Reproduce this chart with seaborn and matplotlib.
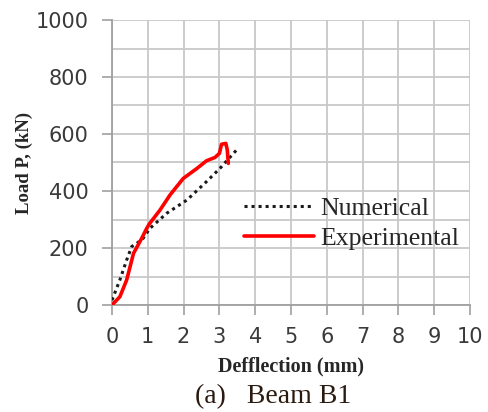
import matplotlib
matplotlib.use("Agg")
import matplotlib.pyplot as plt
import seaborn as sns
import pandas as pd
from matplotlib.lines import Line2D

# Data
exp_x = [0.0, 0.22, 0.41, 0.60, 0.83, 0.97, 1.04, 1.34, 1.62, 1.99, 2.37, 2.64, 2.88, 3.00, 3.06, 3.18, 3.22, 3.25]
exp_y = [0, 29, 88, 181, 234, 269, 284, 333, 386, 444, 479, 506, 518, 532, 564, 567, 544, 497]
num_x = [0.0, 0.22, 0.41, 0.55, 0.69, 0.87, 1.06, 1.53, 2.09, 2.64, 3.02, 3.48]
num_y = [17, 88, 158, 205, 216, 234, 269, 322, 368, 433, 480, 544]
x_ticks = list(range(0, 11))
y_ticks = [0, 200, 400, 600, 800, 1000]

df = pd.concat([
    pd.DataFrame({"x": num_x, "y": num_y, "series": "Numerical"}),
    pd.DataFrame({"x": exp_x, "y": exp_y, "series": "Experimental"}),
], ignore_index=True)

sns.set_style("white")
fig = plt.figure(figsize=(4.88, 4.12), dpi=100)
ax = fig.add_axes([112/488, 1-305/412, 358/488, 285/412])

sns.lineplot(data=df, x="x", y="y", hue="series", style="series",
             palette={"Numerical": "#1a1a1a", "Experimental": "#ff0000"},
             dashes={"Numerical": (1, 1.3), "Experimental": ""},
             sort=False, estimator=None, ax=ax, legend=False)
lines = ax.get_lines()
lines[0].set_linewidth(2.2)
lines[1].set_linewidth(2.6)
lines[0].set_zorder(3)
lines[1].set_zorder(4)

ax.set_xlim(0, 10)
ax.set_ylim(0, 1000)
ax.set_xticks(x_ticks)
ax.set_yticks(y_ticks)
ax.set_yticks(range(0, 1001, 100), minor=True)
ax.grid(True, which="both", color="#c8c8c8", linewidth=1.3)
ax.set_axisbelow(True)
for s in ["top", "right"]:
    ax.spines[s].set_visible(False)
for s in ["left", "bottom"]:
    ax.spines[s].set_color("#a0a0a0")
    ax.spines[s].set_linewidth(1.3)
ax.tick_params(axis="both", which="major", direction="out", length=7, width=1.2,
               color="#a0a0a0", labelsize=15, labelcolor="#3a3a3a",
               left=True, bottom=True)
ax.tick_params(axis="y", which="major", pad=10)
ax.tick_params(axis="x", which="major", pad=9)
ax.tick_params(axis="y", which="minor", length=0)

ax.set_xlabel("Defflection (mm)", fontfamily="Liberation Serif", fontweight="bold",
              fontsize=14.5, labelpad=7)
ax.set_ylabel("Load P, (kN)", fontfamily="Liberation Serif", fontweight="bold",
              fontsize=13.5)
ax.yaxis.set_label_coords(-0.222, 0.5)

handles = [Line2D([], [], color="#1a1a1a", lw=2.2, dashes=(1, 1.3)),
           Line2D([], [], color="#ff0000", lw=2.6)]
leg = ax.legend(handles, ["Numerical", "Experimental"], loc="center left",
                bbox_to_anchor=(0.37, 0.286), frameon=False,
                prop={"family": "Liberation Serif", "size": 18.5},
                handlelength=2.7, handletextpad=0.25, labelspacing=0.3,
                borderpad=0, borderaxespad=0)

fig.text(0.56, 1-397/412, "(a)   Beam B1", ha="center", va="center",
         fontfamily="Liberation Serif", fontsize=20, color="#2a1a10")

fig.savefig("out.png", dpi=100)
